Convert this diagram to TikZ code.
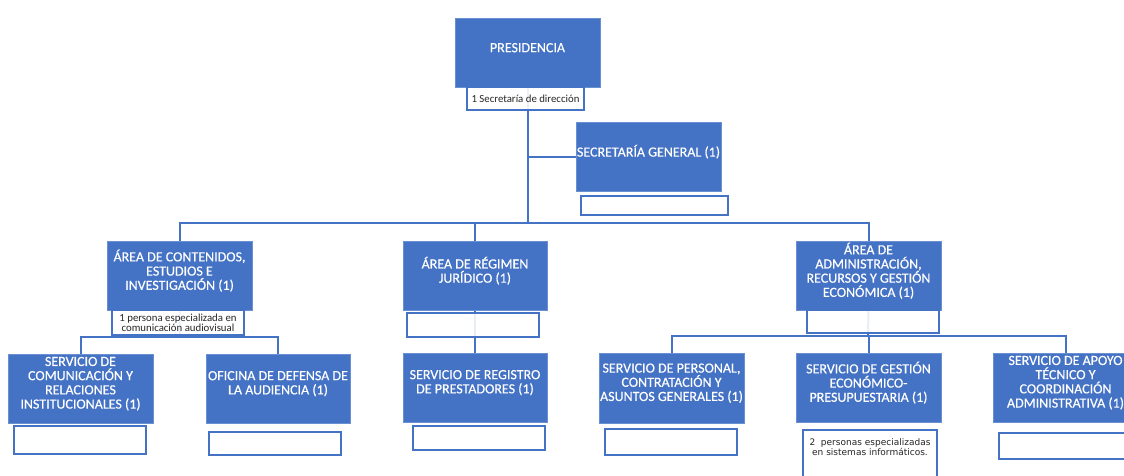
\documentclass[tikz,border=0pt]{standalone}
\usepackage{fontspec}
\setmainfont{Carlito}
\newfontfamily\boxfont{Carlito}[FakeBold=0.35]
\newfontfamily\dejavu{DejaVu Sans}
\usetikzlibrary{backgrounds}
\pgfdeclarelayer{paper}
\pgfsetlayers{paper,background,main}
\definecolor{ofblue}{HTML}{4472C4}
\definecolor{lnblue}{HTML}{4472C4}
\definecolor{edgeblue}{HTML}{6A8FD3}
\tikzset{
  bluebox/.style={fill=ofblue, draw=edgeblue, line width=0.8pt, inner sep=0pt, outer sep=0pt, anchor=north west},
  emptybox/.style={draw=lnblue, line width=1.7pt, fill=white, fill opacity=0.88, text opacity=1, inner sep=0pt, outer sep=0pt, anchor=north west},
  notebox/.style={draw=lnblue, line width=1.1pt, fill=white, fill opacity=0.9, text opacity=1, inner sep=0pt, outer sep=0pt, anchor=north west},
  boxtext/.style={text=white, font=\boxfont\fontsize{14}{14.2}\selectfont, align=center, inner sep=0pt},
  smalltext/.style={text=black!85, font=\fontsize{10.8}{10}\selectfont, align=center, inner sep=0pt},
  conn/.style={draw=lnblue, line width=2pt}
}
\newcommand{\bbox}[6]{% name, x, y, w, h, text
  \node[bluebox, minimum width=#4pt, minimum height=#5pt] (#1) at (#2,#3) {};
  \node[boxtext] (#1T) at ([yshift=4.8pt]#1.center) {#6};
}
\begin{document}
\begin{tikzpicture}[x=1pt,y=-1pt]
\useasboundingbox (0,0) rectangle (1124,476);
\clip (0,0) rectangle (1124,476);
\begin{pgfonlayer}{paper}
\fill[white] (0,0) rectangle (1124,476);
\end{pgfonlayer}

% top
\bbox{pres}{455}{18}{145}{69}{PRESIDENCIA}
\node[notebox, minimum width=117pt, minimum height=23pt] (secdir) at (467,87) {};
\node[smalltext] (secdirT) at (secdir.center) {1 Secretaría de dirección};

\bbox{sg}{576}{122}{145}{69}{SECRETARÍA GENERAL (1)}
\node[emptybox, minimum width=147pt, minimum height=19pt] (sgE) at (581,196) {};

% areas
\bbox{cont}{107}{241}{145}{69}{ÁREA DE CONTENIDOS,\\ESTUDIOS E\\INVESTIGACIÓN (1)}
\node[notebox, minimum width=132pt, minimum height=25pt] (contN) at (112,310) {};
\node[smalltext] (contNT) at (contN.center) {1 persona especializada en\\comunicación audiovisual};

\bbox{reg}{403}{241}{144}{69}{ÁREA DE RÉGIMEN\\JURÍDICO (1)}
\node[emptybox, minimum width=132pt, minimum height=24pt] (regE) at (407,313) {};

\bbox{admin}{796}{241}{145}{69}{ÁREA DE\\ADMINISTRACIÓN,\\RECURSOS Y GESTIÓN\\ECONÓMICA (1)}
\node[emptybox, minimum width=132pt, minimum height=23pt] (adminE) at (807,310) {};

% services
\bbox{com}{8}{354}{145}{69}{SERVICIO DE\\COMUNICACIÓN Y\\RELACIONES\\INSTITUCIONALES (1)}
\node[emptybox, minimum width=132pt, minimum height=28pt] (comE) at (14,426) {};

\bbox{ofi}{206}{354}{144}{69}{OFICINA DE DEFENSA DE\\LA AUDIENCIA (1)}
\node[emptybox, minimum width=132pt, minimum height=23pt] (ofiE) at (209,432) {};

\bbox{regs}{403}{353}{144}{69}{SERVICIO DE REGISTRO\\DE PRESTADORES (1)}
\node[emptybox, minimum width=132pt, minimum height=24pt] (regsE) at (413,426) {};

\bbox{pers}{599}{353}{145}{70}{SERVICIO DE PERSONAL,\\CONTRATACIÓN Y\\ASUNTOS GENERALES (1)}
\node[emptybox, minimum width=132pt, minimum height=26pt] (persE) at (605,429) {};

\bbox{gest}{796}{353}{145}{69}{SERVICIO DE GESTIÓN\\ECONÓMICO-\\PRESUPUESTARIA (1)}
\node[notebox, line width=1.5pt, minimum width=134pt, minimum height=55pt] (gestN) at (803,430) {};
\node[text=black!85, font=\dejavu\fontsize{9}{10.5}\selectfont, align=center, inner sep=0pt] (gestNT) at (870,447) {2 \ personas especializadas\\en sistemas informáticos.};

\bbox{apoyo}{993}{353}{145}{69}{SERVICIO DE APOYO\\TÉCNICO Y\\COORDINACIÓN\\ADMINISTRATIVA (1)}
\node[emptybox, minimum width=145pt, minimum height=26pt] (apoyoE) at (999,433) {};

% connectors
\begin{scope}[on background layer]
  \coordinate (busC) at (528,223);
  \coordinate (contBus) at (180,337);
  \coordinate (admBus) at (868,336);
  \draw[conn] (pres.south -| busC) -- (busC);
  \draw[conn] (busC |- sg.west) -- (sg.west);
  \draw[conn] (cont.north) -- (cont.north |- busC) -- (admin.north |- busC) -- (admin.north);
  \draw[conn] (reg.north |- busC) -- (reg.north);
  \draw[conn] (cont.south) -- (contBus);
  \draw[conn] (com.north) -- (com.north |- contBus) -- (ofi.north |- contBus) -- (ofi.north);
  \draw[conn] (reg.south) -- (regs.north);
  \draw[conn] (admin.south) -- (admBus);
  \draw[conn] (pers.north) -- (pers.north |- admBus) -- (apoyo.north |- admBus) -- (apoyo.north);
  \draw[conn] (gest.north |- admBus) -- (gest.north);
\end{scope}
\end{tikzpicture}
\end{document}
